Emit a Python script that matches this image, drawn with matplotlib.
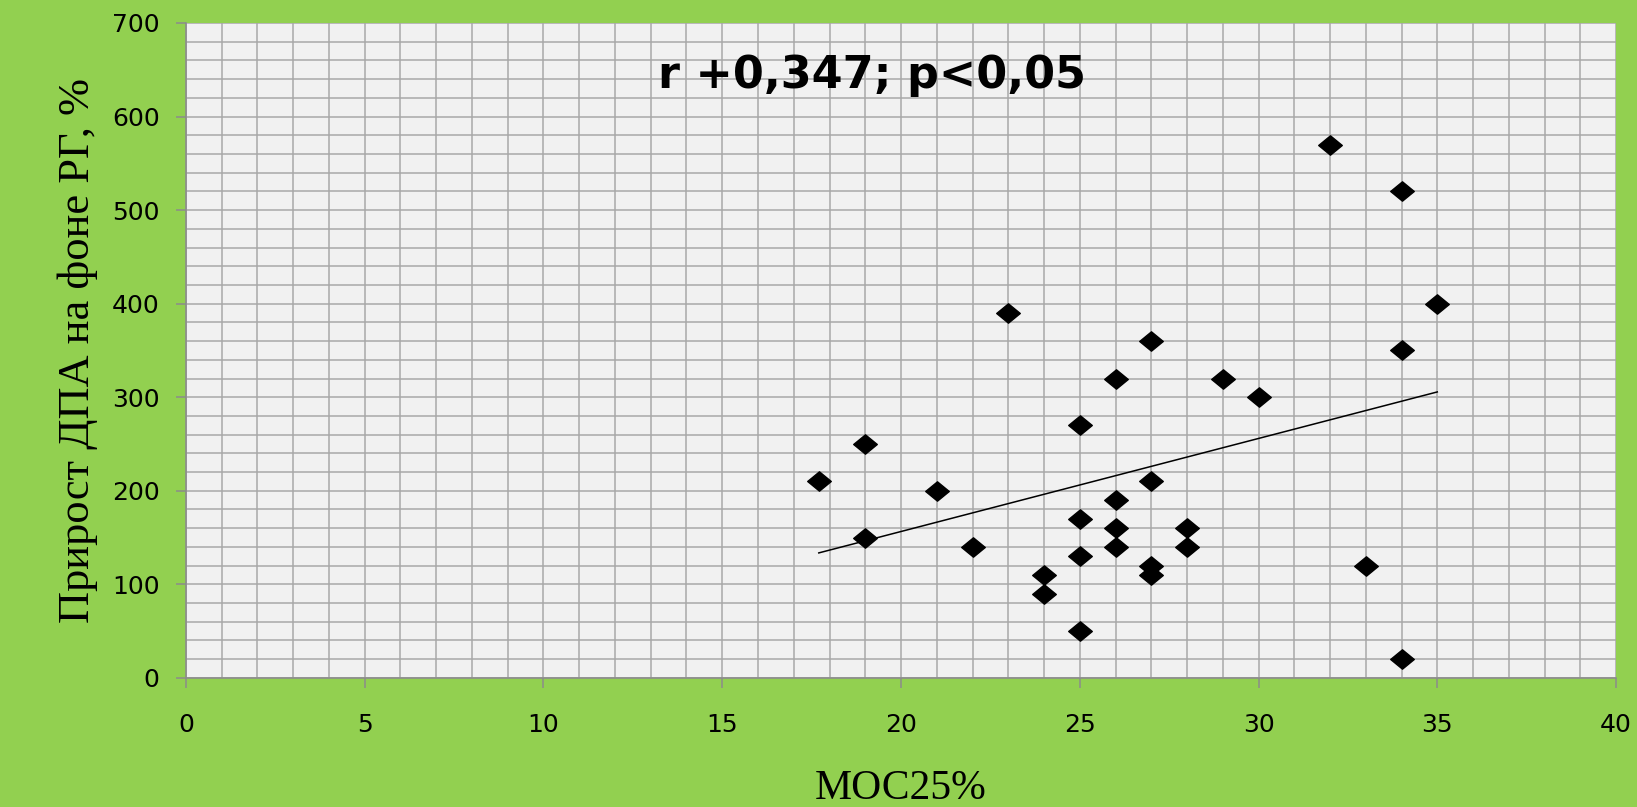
import numpy as np
from matplotlib import pyplot as plt
from matplotlib.path import Path
from matplotlib.ticker import MultipleLocator

# МОС25% values and the matching rise of ДПА
moc25 = [17.7, 19, 19, 21, 22, 23, 24, 24, 25, 25, 25, 25, 26, 26, 26, 26,
         27, 27, 27, 27, 28, 28, 29, 30, 32, 33, 34, 34, 34, 35]
dpa = [210, 250, 150, 200, 140, 390, 110, 90, 270, 170, 130, 50, 320, 190, 160, 140,
       360, 210, 120, 110, 160, 140, 320, 300, 570, 120, 520, 350, 20, 400]
x_ticks = [0, 5, 10, 15, 20, 25, 30, 35, 40]
y_ticks = [0, 100, 200, 300, 400, 500, 600, 700]
note = 'r +0,347; p<0,05'

green = '#92D050'
grid_clr = '#A8A8A8'

fig = plt.figure(figsize=(16.37, 8.07), dpi=100, facecolor=green)
ax = fig.add_axes([0.1136, 0.160, 0.8736, 0.8115])
ax.set_facecolor('#F1F1F1')

# squashed diamond like the Excel marker
diamond = Path([(-1, 0), (0, 0.82), (1, 0), (0, -0.82), (-1, 0)],
               [Path.MOVETO, Path.LINETO, Path.LINETO, Path.LINETO, Path.CLOSEPOLY])
ax.plot(moc25, dpa, linestyle='none', marker=diamond, markersize=17,
        color='black', zorder=4)

# linear trend line over the data range
a, b = np.polyfit(moc25, dpa, 1)
xs = np.array([min(moc25), max(moc25)])
ax.plot(xs, a * xs + b, color='black', lw=1.1, zorder=3)

ax.set_xlim(0, 40)
ax.set_ylim(0, 700)
ax.set_xticks(x_ticks)
ax.set_yticks(y_ticks)
ax.xaxis.set_minor_locator(MultipleLocator(1))
ax.yaxis.set_minor_locator(MultipleLocator(20))
ax.grid(which='both', color=grid_clr, lw=1.1, zorder=0)
ax.set_axisbelow(True)

for side in ['top', 'right']:
    ax.spines[side].set_visible(False)
for side in ['left', 'bottom']:
    ax.spines[side].set_color('#8C8C8C')
    ax.spines[side].set_linewidth(1.2)

ax.tick_params(which='major', direction='out', length=7, width=1.1, color='#8C8C8C')
ax.tick_params(which='minor', length=0)
ax.tick_params(axis='y', labelsize=18, pad=12)
ax.tick_params(axis='x', labelsize=18, pad=18)

ax.set_xlabel('МОС25%', family='Liberation Serif', fontsize=30, labelpad=24)
ax.set_ylabel('Прирост ДПА на фоне РГ, %', family='Liberation Serif',
              fontsize=32, labelpad=10)

ax.text(19.2, 644, note, fontsize=32, fontweight='bold', ha='center',
        va='center', zorder=5)

fig.savefig('out.png', dpi=100, facecolor=green)
